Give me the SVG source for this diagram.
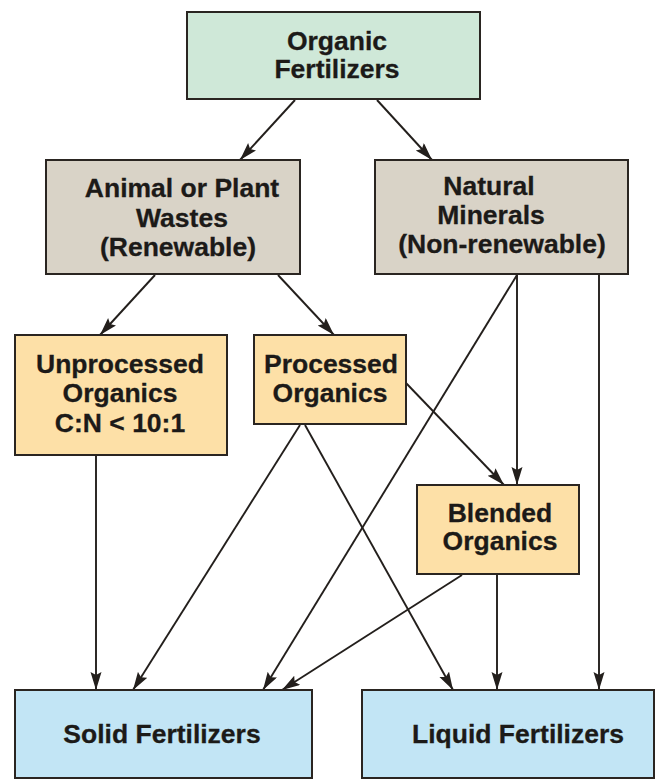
<svg xmlns="http://www.w3.org/2000/svg" width="658" height="779" viewBox="0 0 658 779">
  <style>
    .box { stroke: #2a2521; stroke-width: 2; }
    .green { fill: #cfe8d8; }
    .tan { fill: #d9d3c7; }
    .orange { fill: #fde0a7; }
    .blue { fill: #c2e5f5; }
    text { font-family: "Liberation Sans", Arial, sans-serif; font-weight: bold; font-size: 26.5px; fill: #1c1a18; text-anchor: middle; stroke: #1c1a18; stroke-width: 0.3; }
    .conn line { stroke: #231f1c; stroke-width: 1.9; marker-end: url(#arrow); }
  </style>
  <defs>
    <marker id="arrow" markerUnits="userSpaceOnUse" markerWidth="20" markerHeight="12" refX="18" refY="5.5" orient="auto">
      <path d="M0,0 L18,5.5 L0,11 L3,5.5 z" fill="#231f1c"/>
    </marker>
  </defs>
  <rect width="658" height="779" fill="#ffffff"/>

  <!-- connectors -->
  <g id="connectors" class="conn">
    <line x1="295" y1="100" x2="240" y2="160"/>
    <line x1="377" y1="100" x2="432" y2="160"/>
    <line x1="155" y1="275" x2="100" y2="335"/>
    <line x1="278" y1="275" x2="334" y2="335"/>
    <line x1="517" y1="275" x2="517" y2="485"/>
    <line x1="517" y1="275" x2="263" y2="690"/>
    <line x1="599" y1="275" x2="599" y2="690"/>
    <line x1="406" y1="383" x2="504" y2="485"/>
    <line x1="96" y1="456" x2="96" y2="690"/>
    <line x1="300" y1="425" x2="133" y2="690"/>
    <line x1="305" y1="425" x2="453" y2="690"/>
    <line x1="462" y1="575" x2="282" y2="690"/>
    <line x1="497" y1="575" x2="497" y2="690"/>
  </g>

  <g id="organic-fertilizers">
    <rect class="box green" x="187" y="12" width="293" height="87"/>
    <text x="337" y="50">Organic</text>
    <text x="337" y="78">Fertilizers</text>
  </g>

  <g id="animal-plant-wastes">
    <rect class="box tan" x="46" y="160" width="254" height="114"/>
    <text x="182" y="197">Animal or Plant</text>
    <text x="182" y="227">Wastes</text>
    <text x="178" y="256">(Renewable)</text>
  </g>

  <g id="natural-minerals">
    <rect class="box tan" x="375" y="160" width="253" height="114"/>
    <text x="489" y="195">Natural</text>
    <text x="491" y="224">Minerals</text>
    <text x="502" y="253">(Non-renewable)</text>
  </g>

  <g id="unprocessed-organics">
    <rect class="box orange" x="15" y="335" width="212" height="120"/>
    <text x="120" y="373">Unprocessed</text>
    <text x="120" y="402">Organics</text>
    <text x="120" y="432">C:N &lt; 10:1</text>
  </g>

  <g id="processed-organics">
    <rect class="box orange" x="254" y="335" width="152" height="89"/>
    <text x="331" y="373">Processed</text>
    <text x="330" y="402">Organics</text>
  </g>

  <g id="blended-organics">
    <rect class="box orange" x="417" y="485" width="162" height="89"/>
    <text x="500" y="522">Blended</text>
    <text x="500" y="550">Organics</text>
  </g>

  <g id="solid-fertilizers">
    <rect class="box blue" x="15" y="690" width="297" height="88"/>
    <text x="162" y="743">Solid Fertilizers</text>
  </g>

  <g id="liquid-fertilizers">
    <rect class="box blue" x="362" y="690" width="292" height="88"/>
    <text x="518" y="743">Liquid Fertilizers</text>
  </g>
</svg>
